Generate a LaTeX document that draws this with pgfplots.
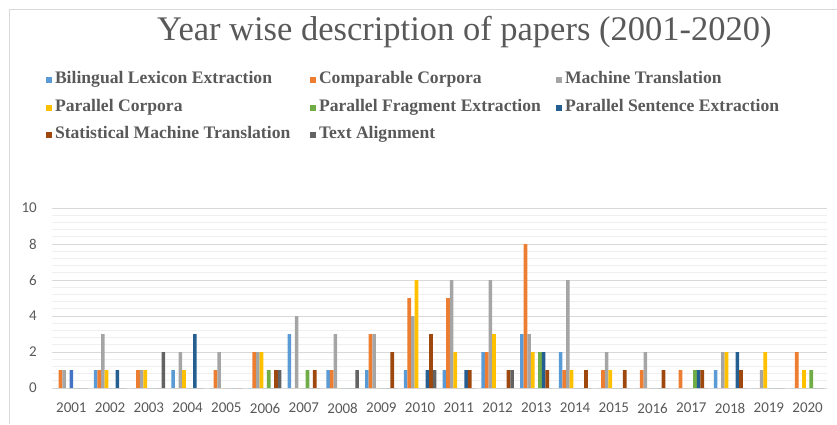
\documentclass[border=0pt]{standalone}
\usepackage{pgfplots}
\pgfplotsset{compat=1.18}
\usepackage{pgfplotstable}
\usepackage{fontspec}
\setmainfont{Liberation Serif}
\newfontfamily\carlito{Carlito}
\definecolor{cBLE}{HTML}{5B9BD5}
\definecolor{cCC}{HTML}{ED7D31}
\definecolor{cMT}{HTML}{A5A5A5}
\definecolor{cPC}{HTML}{FFC000}
\definecolor{cS5}{HTML}{4472C4}
\definecolor{cPFE}{HTML}{70AD47}
\definecolor{cPSE}{HTML}{255E91}
\definecolor{cSMT}{HTML}{9E480E}
\definecolor{cTA}{HTML}{636363}
\definecolor{txt}{HTML}{595959}
\definecolor{gmaj}{HTML}{D9D9D9}
\definecolor{gmin}{HTML}{EFEFEF}

\pgfplotstableread{
x  BLE CC MT PC S5 PFE PSE SMT TA
0  0 1 1 0 1 0 0 0 0
1  1 1 3 1 0 0 1 0 0
2  0 1 1 1 0 0 0 0 2
3  1 0 2 1 0 0 3 0 0
4  0 1 2 0 0 0 0 0 0
5  0 2 2 2 0 1 0 1 1
6  3 0 4 0 0 1 0 1 0
7  1 1 3 0 0 0 0 0 1
8  1 3 3 0 0 0 0 2 0
9  1 5 4 6 0 0 1 3 1
10 1 5 6 2 0 0 1 1 0
11 2 2 6 3 0 0 0 1 1
12 3 8 3 2 0 2 2 1 0
13 2 1 6 1 0 0 0 1 0
14 0 1 2 1 0 0 0 1 0
15 0 1 2 0 0 0 0 1 0
16 0 1 0 0 0 1 1 1 0
17 1 0 2 2 0 0 2 1 0
18 0 0 1 2 0 0 0 0 0
19 0 2 0 1 0 1 0 0 0
}\papers

\begin{document}
\begin{tikzpicture}
\path[use as bounding box] (0pt,0pt) rectangle (837pt,-424pt);
\draw[gmaj, line width=0.8pt] (9pt,-424pt) -- (9pt,-9pt) -- (837pt,-9pt);
\begin{axis}[
  at={(52pt,-388pt)}, anchor=south west,
  width=775pt, height=180pt, scale only axis,
  xmin=-0.5, xmax=19.5, ymin=0, ymax=10,
  ytick={0,2,...,10}, minor y tick num=4,
  xtick={0,...,19},
  xticklabels={2001,2002,2003,2004,2005,2006,2007,2008,2009,2010,2011,2012,2013,2014,2015,2016,2017,2018,2019,2020},
  ymajorgrids, yminorgrids,
  major grid style={gmaj, line width=0.9pt},
  minor grid style={gmin, line width=0.7pt},
  axis line style={draw=none},
  major tick length=0pt, minor tick length=0pt,
  tick style={draw=none},
  /pgf/number format/assume math mode=true,
  ticklabel style={font=\carlito\fontsize{15}{18}\selectfont, text=txt},
  yticklabel style={anchor=east, inner sep=0pt, xshift=-15pt},
  xticklabel style={anchor=center, inner sep=0pt, yshift=-20pt},
  ybar, bar width=0.0934,
  title={Year wise description of papers (2001-2020)},
  title style={at={(0.532,1.944)}, anchor=center, inner sep=0pt,
    font=\fontsize{34.5}{40}\selectfont, text=txt},
  legend columns=3,
  legend image code/.code={\fill[#1] (0pt,0.5pt) rectangle (6pt,6.5pt);},
  legend style={draw=none, fill=none, at={(-0.008,1.758)}, anchor=north west,
    font=\bfseries\fontsize{17.6}{20}\selectfont, text=txt,
    inner sep=0pt, column sep=0pt, row sep=11.5pt,
    nodes={inner sep=0pt, text height=12pt, text depth=4pt, anchor=base west}},
  legend cell align=left,
]
\addplot[draw=none, fill=cBLE, bar shift=-0.3736] table[x=x, y=BLE] {\papers};
\addlegendentry{\makebox[258pt][l]{\hspace{3pt}Bilingual Lexicon Extraction}}
\addplot[draw=none, fill=cCC, bar shift=-0.2802] table[x=x, y=CC] {\papers};
\addlegendentry{\makebox[240pt][l]{\hspace{3pt}Comparable Corpora}}
\addplot[draw=none, fill=cMT, bar shift=-0.1868] table[x=x, y=MT] {\papers};
\addlegendentry{\hspace{3pt}Machine Translation}
\addplot[draw=none, fill=cPC, bar shift=-0.0934] table[x=x, y=PC] {\papers};
\addlegendentry{\makebox[258pt][l]{\hspace{3pt}Parallel Corpora}}
\addplot[draw=none, fill=cPFE, bar shift=0.0934] table[x=x, y=PFE] {\papers};
\addlegendentry{\makebox[240pt][l]{\hspace{3pt}Parallel Fragment Extraction}}
\addplot[draw=none, fill=cPSE, bar shift=0.1868] table[x=x, y=PSE] {\papers};
\addlegendentry{\hspace{3pt}Parallel Sentence Extraction}
\addplot[draw=none, fill=cSMT, bar shift=0.2802] table[x=x, y=SMT] {\papers};
\addlegendentry{\makebox[258pt][l]{\hspace{3pt}Statistical Machine Translation}}
\addplot[draw=none, fill=cTA, bar shift=0.3736] table[x=x, y=TA] {\papers};
\addlegendentry{\makebox[240pt][l]{\hspace{3pt}Text Alignment}}
\addplot[draw=none, fill=cS5, bar shift=0, forget plot] table[x=x, y=S5] {\papers};
\end{axis}
\end{tikzpicture}
\end{document}
